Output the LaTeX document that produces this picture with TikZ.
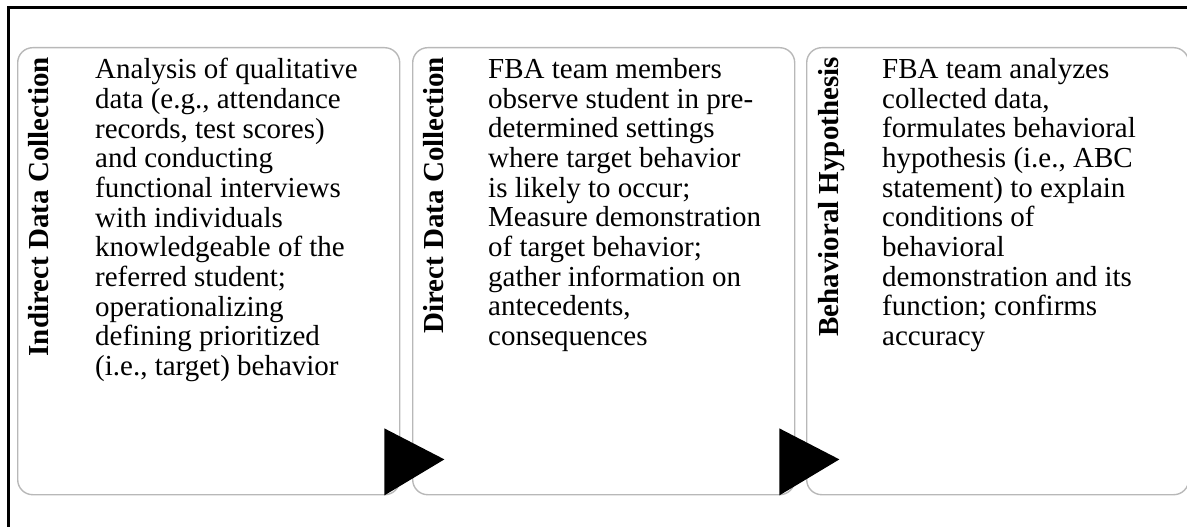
\documentclass[tikz,border=0pt]{standalone}
\usepackage{fontspec}
\setmainfont{Liberation Serif}
\usetikzlibrary{positioning}

\begin{document}
\begin{tikzpicture}[x=1pt, y=-1pt,
    stage/.style={draw=black!28, line width=1.4pt, rounded corners=15pt,
        minimum width=382pt, minimum height=447pt, inner sep=0pt, anchor=north west},
    phase/.style={rotate=90, anchor=base east, inner sep=0pt,
        font=\bfseries\fontsize{29}{29}\selectfont},
    body/.style={anchor=north west, align=left, inner sep=0pt,
        font=\fontsize{29}{29.7}\selectfont},
    pointer/.style={fill=black}
]
\useasboundingbox (0,0) rectangle (1187,527);
\draw[line width=3pt] (8,527) -- (8,8) -- (1187,8);

\node[stage] (s1) at (17,47) {};
\node[stage] (s2) at (412,47) {};
\node[stage] (s3) at (806,47) {};

\node[phase] (p1) at (48,57) {Indirect Data Collection};
\node[phase] (p2) at (443,57) {Direct Data Collection};
\node[phase] (p3) at (838,57) {Behavioral Hypothesis};

\node[body] (t1) at (95,58) {Analysis of qualitative\\ data (e.g., attendance\\
    records, test scores)\\ and conducting\\ functional interviews\\
    with individuals\\ knowledgeable of the\\ referred student;\\
    operationalizing\\ defining prioritized\\ (i.e., target) behavior};
\node[body] (t2) at (488,58) {FBA team members\\ observe student in pre-\\
    determined settings\\ where target behavior\\ is likely to occur;\\
    Measure demonstration\\ of target behavior;\\ gather information on\\
    antecedents,\\ consequences};
\node[body] (t3) at (882,58) {FBA team analyzes\\ collected data,\\
    formulates behavioral\\ hypothesis (i.e., ABC\\ statement) to explain\\
    conditions of\\ behavioral\\ demonstration and its\\ function; confirms\\
    accuracy};

% arrows between the stages
\foreach \s in {s1,s2}
    \fill[pointer] ([xshift=-16pt]\s.south east) -- ([xshift=44pt, yshift=36pt]\s.south east)
        -- ([xshift=-16pt, yshift=67pt]\s.south east) -- cycle;
\end{tikzpicture}
\end{document}
